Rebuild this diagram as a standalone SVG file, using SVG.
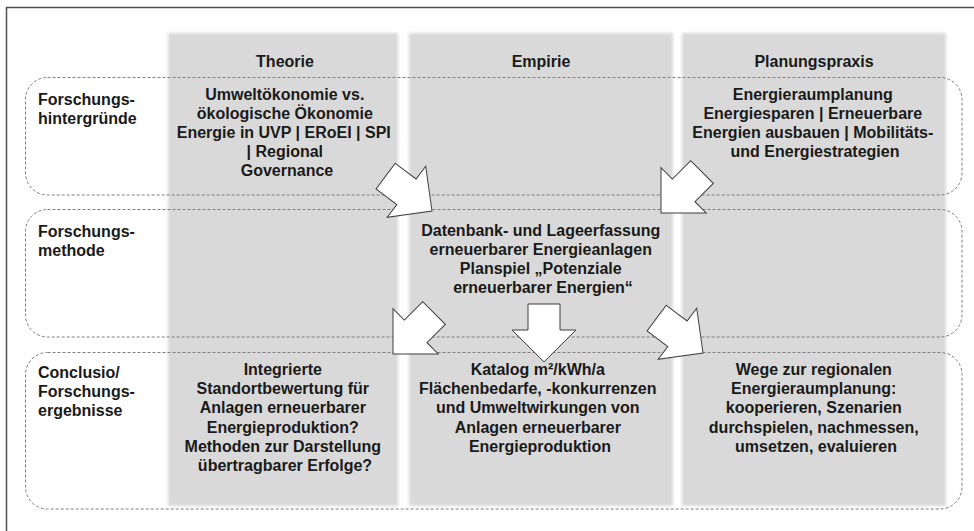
<svg xmlns="http://www.w3.org/2000/svg" xmlns:xlink="http://www.w3.org/1999/xlink" width="974" height="531" viewBox="0 0 974 531">
  <style>
    .t { font-family: "Liberation Sans", Arial, sans-serif; font-weight: bold; font-size: 16px; fill: #1a1a1a; }
    .c { text-anchor: middle; }
    .col { fill: #d9d9d9; filter: url(#soft); }
    .row { fill: none; stroke: #7f7f7f; stroke-width: 1; stroke-dasharray: 3 2; }
    .arr { fill: #ffffff; stroke: #3f3f3f; stroke-width: 1; stroke-linejoin: miter; }
  </style>
  <defs>
    <filter id="soft" x="-5%" y="-5%" width="110%" height="110%">
      <feGaussianBlur stdDeviation="1.6"/>
    </filter>
    <polygon id="blk" points="-58,-16 -32,-16 -32,-32 0,0 -32,32 -32,16 -58,16"/>
  </defs>

  <rect x="0" y="0" width="974" height="531" fill="#ffffff"/>
  <path d="M6.5,531 V7.5 H974" fill="none" stroke="#505050" stroke-width="1.5"/>

  <g id="columns">
    <rect id="col-theorie" class="col" x="168" y="33" width="230" height="473"/>
    <rect id="col-empirie" class="col" x="409" y="33" width="264" height="473"/>
    <rect id="col-planung" class="col" x="682" y="33" width="264" height="473"/>
  </g>

  <g id="rows">
    <rect id="row-hintergruende" class="row" x="25.5" y="77.5" width="936.5" height="117.5" rx="22" ry="22"/>
    <rect id="row-methode" class="row" x="25.5" y="209.5" width="936.5" height="127.5" rx="22" ry="22"/>
    <rect id="row-ergebnisse" class="row" x="25.5" y="352.5" width="936.5" height="156.5" rx="22" ry="22"/>
  </g>

  <g id="header-theorie"><text class="t c" x="285" y="67">Theorie</text></g>
  <g id="header-empirie"><text class="t c" x="541" y="67">Empirie</text></g>
  <g id="header-planung"><text class="t c" x="814" y="67">Planungspraxis</text></g>

  <g id="label-hintergruende">
    <text class="t"><tspan x="38" y="105">Forschungs-</tspan><tspan x="38" y="124">hintergründe</tspan></text>
  </g>
  <g id="label-methode">
    <text class="t"><tspan x="38" y="237">Forschungs-</tspan><tspan x="38" y="256">methode</tspan></text>
  </g>
  <g id="label-ergebnisse">
    <text class="t"><tspan x="38" y="378">Conclusio/</tspan><tspan x="38" y="397">Forschungs-</tspan><tspan x="38" y="416">ergebnisse</tspan></text>
  </g>

  <g id="cell-theorie-hintergruende">
    <text class="t c">
      <tspan x="287" y="100">Umweltökonomie vs.</tspan>
      <tspan x="287" y="119">ökologische Ökonomie</tspan>
      <tspan x="286" y="138">Energie in UVP | ERoEI | SPI</tspan>
      <tspan x="287" y="157">| Regional</tspan>
      <tspan x="287" y="176">Governance</tspan>
    </text>
  </g>
  <g id="cell-planung-hintergruende">
    <text class="t c">
      <tspan x="815" y="100">Energieraumplanung</tspan>
      <tspan x="815" y="119">Energiesparen | Erneuerbare</tspan>
      <tspan x="815" y="138">Energien ausbauen | Mobilitäts-</tspan>
      <tspan x="815" y="157">und Energiestrategien</tspan>
    </text>
  </g>
  <g id="cell-empirie-methode">
    <text class="t c">
      <tspan x="543" y="236">Datenbank- und Lageerfassung</tspan>
      <tspan x="543" y="255">erneuerbarer Energieanlagen</tspan>
      <tspan x="543" y="274">Planspiel „Potenziale</tspan>
      <tspan x="543" y="293">erneuerbarer Energien“</tspan>
    </text>
  </g>
  <g id="cell-theorie-ergebnisse">
    <text class="t c">
      <tspan x="285" y="375">Integrierte</tspan>
      <tspan x="285" y="394">Standortbewertung für</tspan>
      <tspan x="285" y="413">Anlagen erneuerbarer</tspan>
      <tspan x="285" y="432.5">Energieproduktion?</tspan>
      <tspan x="285" y="451.5">Methoden zur Darstellung</tspan>
      <tspan x="285" y="470.5">übertragbarer Erfolge?</tspan>
    </text>
  </g>
  <g id="cell-empirie-ergebnisse">
    <text class="t c">
      <tspan x="540" y="375">Katalog m²/kWh/a</tspan>
      <tspan x="540" y="394">Flächenbedarfe, -konkurrenzen</tspan>
      <tspan x="540" y="413">und Umweltwirkungen von</tspan>
      <tspan x="540" y="432.5">Anlagen erneuerbarer</tspan>
      <tspan x="540" y="451.5">Energieproduktion</tspan>
    </text>
  </g>
  <g id="cell-planung-ergebnisse">
    <text class="t c">
      <tspan x="816" y="375">Wege zur regionalen</tspan>
      <tspan x="816" y="394">Energieraumplanung:</tspan>
      <tspan x="816" y="413">kooperieren, Szenarien</tspan>
      <tspan x="816" y="432.5">durchspielen, nachmessen,</tspan>
      <tspan x="816" y="451.5">umsetzen, evaluieren</tspan>
    </text>
  </g>

  <g id="connectors">
    <use xlink:href="#blk" class="arr" transform="translate(432,211) rotate(37)"/>
    <use xlink:href="#blk" class="arr" transform="translate(661,213) rotate(135)"/>
    <use xlink:href="#blk" class="arr" transform="translate(393,354) rotate(135)"/>
    <use xlink:href="#blk" class="arr" transform="translate(544,362) rotate(90)"/>
    <use xlink:href="#blk" class="arr" transform="translate(703,353) rotate(37)"/>
  </g>
</svg>
